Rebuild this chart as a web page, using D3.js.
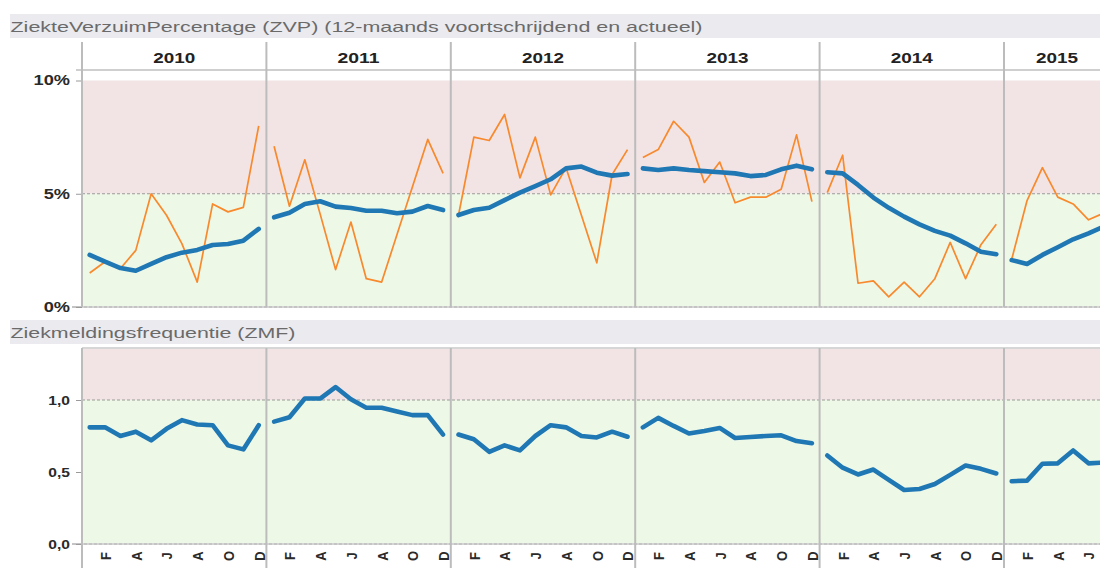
<!DOCTYPE html>
<html><head><meta charset="utf-8">
<script src="https://cdn.jsdelivr.net/npm/d3@7"></script>
<style>body{margin:0;background:#fff;overflow:hidden}svg{display:block;font-family:"Liberation Sans",Arial,sans-serif}</style>
</head><body><svg id="c" width="1100" height="568"></svg>
<script>
const years = ["2010","2011","2012","2013","2014","2015"];
const monthIdx = d3.range(12);
const monthTickLabels = ["","F","","A","","J","","A","","O","","D"];
const zvpTicks = [0, 5, 10];
const zvpTickLabels = ["0%", "5%", "10%"];
const zmfTicks = [0, 0.5, 1.0];
const zmfTickLabels = ["0,0", "0,5", "1,0"];
const zvpThreshold = 5;
const zmfThreshold = 1.0;
const title1 = "ZiekteVerzuimPercentage (ZVP) (12-maands voortschrijdend en actueel)";
const title2 = "Ziekmeldingsfrequentie (ZMF)";

// ZVP actual (orange)
const zvpActual = [
  [1.5, 2.0, 1.7, 2.5, 5.0, 4.05, 2.8, 1.1, 4.55, 4.2, 4.4, 8.0],
  [7.1, 4.45, 6.5, 4.1, 1.65, 3.75, 1.25, 1.1, 3.2, 5.3, 7.4, 5.9],
  [4.05, 7.5, 7.35, 8.5, 5.7, 7.5, 4.95, 6.15, 4.05, 1.95, 5.85, 6.95],
  [6.6, 6.95, 8.2, 7.5, 5.5, 6.4, 4.6, 4.85, 4.85, 5.2, 7.6, 4.65],
  [5.05, 6.7, 1.05, 1.15, 0.45, 1.1, 0.45, 1.25, 2.85, 1.25, 2.75, 3.65],
  [2.1, 4.7, 6.15, 4.85, 4.55, 3.85, 4.15]
];
// ZVP 12-month rolling (blue)
const zvpRolling = [
  [2.3, 2.0, 1.72, 1.6, 1.9, 2.2, 2.4, 2.52, 2.74, 2.78, 2.93, 3.45],
  [3.96, 4.16, 4.55, 4.67, 4.43, 4.37, 4.25, 4.25, 4.14, 4.21, 4.46, 4.28],
  [4.06, 4.28, 4.38, 4.72, 5.05, 5.34, 5.64, 6.12, 6.2, 5.93, 5.8, 5.87],
  [6.12, 6.05, 6.12, 6.05, 6.0, 5.95, 5.9, 5.78, 5.83, 6.08, 6.24, 6.08],
  [5.95, 5.9, 5.39, 4.83, 4.38, 3.99, 3.65, 3.36, 3.15, 2.81, 2.44, 2.33],
  [2.07, 1.9, 2.3, 2.64, 2.99, 3.25, 3.55]
];
// ZMF (blue)
const zmf = [
  [0.81, 0.81, 0.75, 0.78, 0.72, 0.80, 0.86, 0.83, 0.825, 0.685, 0.657, 0.825],
  [0.85, 0.88, 1.01, 1.01, 1.09, 1.005, 0.946, 0.946, 0.92, 0.895, 0.895, 0.76],
  [0.76, 0.727, 0.64, 0.685, 0.65, 0.75, 0.825, 0.81, 0.75, 0.74, 0.78, 0.745],
  [0.81, 0.876, 0.82, 0.767, 0.785, 0.806, 0.736, 0.743, 0.75, 0.755, 0.715, 0.70],
  [0.615, 0.53, 0.483, 0.517, 0.445, 0.375, 0.382, 0.417, 0.48, 0.545, 0.522, 0.49],
  [0.436, 0.44, 0.557, 0.56, 0.65, 0.56, 0.565]
];

const svg = d3.select("#c");
const W = 1100;
const left = 82, colW = 184.4, rightEdge = left + colW * years.length;
const xYear = d3.scaleBand().domain(years).range([left, rightEdge]).paddingInner(0).paddingOuter(0);
const xMonth = d3.scalePoint().domain(monthIdx).range([0, xYear.bandwidth()]).padding(0.5);

const yTop = d3.scaleLinear().domain([0, 10]).range([307, 80.5]);
const yBot = d3.scaleLinear().domain([0, 1]).range([544, 400]);
const botPanelTop = 348;

const BLUE = "#1f77b4", ORANGE = "#f8892c", PINK = "#f2e4e5", GREEN = "#eef8e7", SEP = "#bcbcbc";

function stretch(sel, factor) {
  sel.each(function(){ const n = this.getComputedTextLength(); d3.select(this).attr("textLength", n*factor).attr("lengthAdjust","spacingAndGlyphs"); });
}
function fitTo(sel, width) {
  sel.attr("textLength", width).attr("lengthAdjust","spacingAndGlyphs");
}

// title bars
svg.append("rect").attr("x",10).attr("y",14).attr("width",W-10).attr("height",24).attr("fill","#ebebef");
fitTo(svg.append("text").attr("x",10.5).attr("y",31.5).attr("font-size",14).attr("fill","#6a6a6a").text(title1), 692);
svg.append("rect").attr("x",10).attr("y",320).attr("width",W-10).attr("height",24).attr("fill","#ebebef");
fitTo(svg.append("text").attr("x",10.5).attr("y",337.5).attr("font-size",14).attr("fill","#6a6a6a").text(title2), 285);

// backgrounds top
svg.append("rect").attr("x",left).attr("width",W-left).attr("y",yTop(10)).attr("height",yTop(zvpThreshold)-yTop(10)).attr("fill",PINK);
svg.append("rect").attr("x",left).attr("width",W-left).attr("y",yTop(zvpThreshold)).attr("height",yTop(0)-yTop(zvpThreshold)).attr("fill",GREEN);
// backgrounds bottom
svg.append("rect").attr("x",left).attr("width",W-left).attr("y",botPanelTop).attr("height",yBot(zmfThreshold)-botPanelTop).attr("fill",PINK);
svg.append("rect").attr("x",left).attr("width",W-left).attr("y",yBot(zmfThreshold)).attr("height",yBot(0)-yBot(zmfThreshold)).attr("fill",GREEN);

// threshold dashed lines
svg.append("line").attr("x1",left).attr("x2",W).attr("y1",yTop(zvpThreshold)).attr("y2",yTop(zvpThreshold)).attr("stroke","#9a9a9a").attr("stroke-dasharray","3,2");
svg.append("line").attr("x1",left).attr("x2",W).attr("y1",yBot(zmfThreshold)).attr("y2",yBot(zmfThreshold)).attr("stroke","#9a9a9a").attr("stroke-dasharray","3,2");

// header line and panel borders
svg.append("line").attr("x1",76).attr("x2",W).attr("y1",70).attr("y2",70).attr("stroke","#cfcfcf").attr("stroke-width",2);
svg.append("line").attr("x1",left).attr("x2",W).attr("y1",botPanelTop).attr("y2",botPanelTop).attr("stroke","#d6d6d6").attr("stroke-width",2);

// bottom axis lines
[yTop(0), yBot(0)].forEach(yy=>{
  svg.append("line").attr("x1",72).attr("x2",W).attr("y1",yy).attr("y2",yy).attr("stroke","#c4c4c4").attr("stroke-width",2);
  svg.append("line").attr("x1",left).attr("x2",W).attr("y1",yy).attr("y2",yy).attr("stroke","#e6e6e6").attr("stroke-width",1).attr("stroke-dasharray","2,3");
});

// separators
years.forEach(y=>{
  const x = xYear(y);
  svg.append("line").attr("x1",x).attr("x2",x).attr("y1",42).attr("y2",yTop(0)).attr("stroke",SEP).attr("stroke-width",2);
  svg.append("line").attr("x1",x).attr("x2",x).attr("y1",botPanelTop).attr("y2",568).attr("stroke",SEP).attr("stroke-width",2);
});

// year headers
years.forEach(y=>{
  const x0 = xYear(y), x1 = Math.min(x0 + xYear.bandwidth(), 1110);
  const t = svg.append("text").attr("x",(x0+x1)/2).attr("y",62.5).attr("text-anchor","middle")
    .attr("font-size",15).attr("font-weight","bold").attr("fill","#222").text(y);
  fitTo(t, 42);
});

// y axes
const axTop = svg.append("g").attr("transform",`translate(${left},0)`)
  .call(d3.axisLeft(yTop).tickValues(zvpTicks).tickFormat((d,i)=>zvpTickLabels[i]).tickSize(6).tickPadding(6));
const axBot = svg.append("g").attr("transform",`translate(${left},0)`)
  .call(d3.axisLeft(yBot).tickValues(zmfTicks).tickFormat((d,i)=>zmfTickLabels[i]).tickSize(6).tickPadding(6));
[axTop, axBot].forEach(a=>{
  a.select(".domain").remove();
  a.selectAll(".tick line").attr("stroke","#9a9a9a");
  a.selectAll(".tick text").attr("font-size",14).attr("font-weight","bold").attr("fill","#2a2a2a").attr("font-family","Liberation Sans, Arial, sans-serif");
});
stretch(axTop.selectAll(".tick text"), 1.3);
axBot.selectAll(".tick text").attr("font-size",13);
stretch(axBot.selectAll(".tick text"), 1.2);

// left axis lines
svg.append("line").attr("x1",left).attr("x2",left).attr("y1",42).attr("y2",yTop(0)).attr("stroke",SEP).attr("stroke-width",2);
svg.append("line").attr("x1",left).attr("x2",left).attr("y1",botPanelTop).attr("y2",568).attr("stroke",SEP).attr("stroke-width",2);

// month labels (only those inside the visible width)
years.forEach(y=>{
  const x0 = xYear(y);
  const g = svg.append("g").attr("transform",`translate(${x0},${yBot(0)})`)
    .call(d3.axisBottom(xMonth).tickSize(0).tickFormat(i => (x0 + xMonth(i) < W - 8) ? monthTickLabels[i] : ""));
  g.select(".domain").remove();
  g.selectAll(".tick text").attr("y",0).attr("dy","0.36em").attr("x",0)
    .attr("transform","translate(0,12) rotate(-90) scale(1,1.15)")
    .attr("text-anchor","middle").attr("font-size",13).attr("font-weight","bold").attr("fill","#2a2a2a")
    .attr("font-family","Liberation Sans, Arial, sans-serif");
});

// lines
svg.append("defs").append("clipPath").attr("id","clipAll").append("rect").attr("x",0).attr("y",0).attr("width",W).attr("height",568);
const marks = svg.append("g").attr("clip-path","url(#clipAll)");
years.forEach((y,yi)=>{
  const x0 = xYear(y);
  const lineTop = d3.line().x((d,i)=>x0 + xMonth(i)).y(d=>yTop(d));
  const lineBot = d3.line().x((d,i)=>x0 + xMonth(i)).y(d=>yBot(d));
  marks.append("path").attr("d",lineTop(zvpActual[yi])).attr("fill","none").attr("stroke",ORANGE).attr("stroke-width",1.7).attr("stroke-linejoin","round");
  marks.append("path").attr("d",lineTop(zvpRolling[yi])).attr("fill","none").attr("stroke",BLUE).attr("stroke-width",4.6).attr("stroke-linejoin","round").attr("stroke-linecap","round");
  marks.append("path").attr("d",lineBot(zmf[yi])).attr("fill","none").attr("stroke",BLUE).attr("stroke-width",4.6).attr("stroke-linejoin","round").attr("stroke-linecap","round");
});
</script></body></html>
